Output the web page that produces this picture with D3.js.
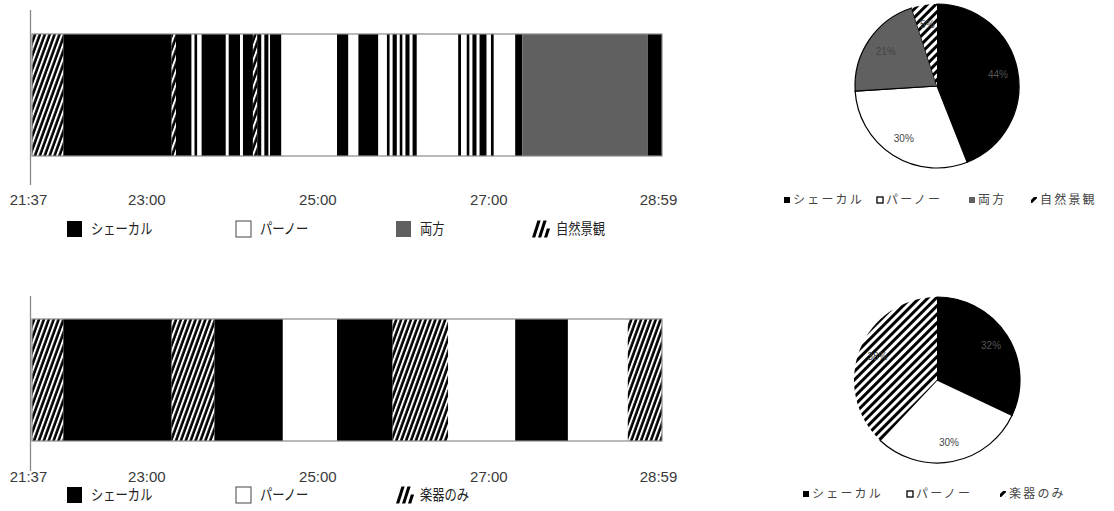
<!DOCTYPE html>
<html><head><meta charset="utf-8">
<script src="https://cdn.jsdelivr.net/npm/d3@7"></script>
<style>body{margin:0;background:#fff} svg{display:block}</style>
</head><body><svg id="c" width="1114" height="511"></svg>
<script>
// ---------- DATA ----------
const topStarts = ["21:37","21:59","23:15","23:18","23:29","23:31","23:33","23:36","23:53","23:55","24:03","24:05","24:12","24:15","24:18","24:20","24:23","24:24","24:32","25:11","25:19","25:26","25:40","25:46","25:48","25:50","25:53","25:55","25:57","25:59","26:02","26:04","26:07","26:36","26:38","26:42","26:44","26:46","26:49","26:51","26:56","26:59","27:01","27:16","27:21","28:49"];
const topTypes  = ["N","S","N","S","P","S","P","S","P","S","P","S","N","S","P","S","P","S","P","S","P","S","P","S","P","S","P","S","P","S","P","S","P","S","P","S","P","S","P","S","P","S","P","S","B","S"];
const bottomStarts = ["21:37","21:59","23:15","23:45","24:33","25:11","25:50","26:29","27:16","27:53","28:35"];
const bottomTypes  = ["N","S","N","S","P","S","N","P","S","P","N"];
const startTime = "21:37";
const endTime = "28:59";
const tickLabels = ["21:37","23:00","25:00","27:00","28:59"];

const topLegendKeys = ["S","P","B","N"];
const topLegendLabels = ["シェーカル","パーノー","両方","自然景観"];
const bottomLegendKeys = ["S","P","N"];
const bottomLegendLabels = ["シェーカル","パーノー","楽器のみ"];

const pieTopKeys = ["S","P","B","N"];
const pieTopValues = [44,30,21,5];
const pieBottomKeys = ["S","P","N"];
const pieBottomValues = [32,30,38];

// ---------- SETUP ----------
const svg = d3.select("#c");
const toMin = s => { const [h,m] = s.split(":").map(Number); return h*60+m; };
const fmt = v => { const h = Math.floor(v/60), m = v%60; return h + ":" + String(m).padStart(2,"0"); };

const defs = svg.append("defs");
const bp = defs.append("pattern").attr("id","barHatch").attr("patternUnits","userSpaceOnUse")
  .attr("width",4.6).attr("height",10).attr("patternTransform","rotate(20)");
bp.append("rect").attr("width",4.6).attr("height",10).attr("fill","#000");
bp.append("rect").attr("width",2).attr("height",10).attr("fill","#fff");

const pp = defs.append("pattern").attr("id","pieHatch").attr("patternUnits","userSpaceOnUse")
  .attr("width",6).attr("height",10).attr("patternTransform","rotate(45)");
pp.append("rect").attr("width",6).attr("height",10).attr("fill","#fff");
pp.append("rect").attr("width",3).attr("height",10).attr("fill","#000");

const fills = {S:"#000", P:"#fff", B:"#606060", N:"url(#barHatch)"};
const pieFills = {S:"#000", P:"#fff", B:"#606060", N:"url(#pieHatch)"};

const x = d3.scaleLinear().domain([toMin(startTime), toMin(endTime)]).range([32, 662]);

function drawBar(starts, types, y0, y1, axisTop, axisBottom, labelY, legendY, legendKeys, legendLabels, legendX) {
  const g = svg.append("g");
  const segs = starts.map((s,i) => ({a: toMin(s), b: toMin(starts[i+1] || endTime), t: types[i]}));
  g.selectAll("rect.seg").data(segs).join("rect").attr("class","seg")
    .attr("x", d => x(d.a)).attr("width", d => x(d.b) - x(d.a))
    .attr("y", y0).attr("height", y1 - y0)
    .attr("fill", d => fills[d.t]);
  g.append("rect").attr("x", x.range()[0]).attr("y", y0)
    .attr("width", x.range()[1]-x.range()[0]).attr("height", y1-y0)
    .attr("fill","none").attr("stroke","#8a8a8a").attr("stroke-width",1.2);
  g.append("line").attr("x1", x.range()[0]-1.5).attr("x2", x.range()[0]-1.5)
    .attr("y1", axisTop).attr("y2", axisBottom).attr("stroke","#8a8a8a").attr("stroke-width",1.3);

  const ax = g.append("g").attr("transform", `translate(-4,${labelY})`)
    .call(d3.axisBottom(x).tickValues(tickLabels.map(toMin)).tickFormat(fmt).tickSize(0).tickPadding(0));
  ax.select(".domain").remove();
  ax.selectAll("text").attr("font-family","'Liberation Sans', Arial, sans-serif")
    .attr("font-size",15).attr("fill","#3a3a3a").attr("dy","0.35em").attr("y",0)
    .attr("transform","scale(1,1)");

  const lg = g.append("g");
  legendKeys.forEach((k,i) => {
    const lx = legendX[i];
    const item = lg.append("g").attr("transform", `translate(${lx},${legendY})`);
    if (k === "N") {
      [0,6,12].forEach((o,j) => {
        const h = j === 2 ? 9 : 17;
        item.append("path").attr("d", `M${o},8.5 L${o+3.2},8.5 L${o+3.2+h*0.32},${8.5-h} L${o+h*0.32},${8.5-h} Z`).attr("fill","#000");
      });
    } else {
      item.append("rect").attr("x",0).attr("y",-8).attr("width",15).attr("height",16)
        .attr("fill", fills[k]).attr("stroke", k === "P" ? "#444" : "none").attr("stroke-width",1);
    }
    item.append("text").attr("y", 0).attr("dy","0.36em")
      .attr("font-family","'Noto Sans CJK JP', sans-serif").attr("font-size",15)
      .attr("fill","#222").attr("transform","scale(0.82,1)")
      .attr("x", 24/0.82)
      .text(legendLabels[i]);
  });
}

drawBar(topStarts, topTypes, 34, 156, 10, 185, 200, 229, topLegendKeys, topLegendLabels, [67, 236, 396, 532]);
drawBar(bottomStarts, bottomTypes, 319, 441, 296, 471, 477, 495, bottomLegendKeys, bottomLegendLabels, [67, 236, 396]);

function drawPie(keys, values, labels, cx, cy, r, labelR, legendY, legendX) {
  const g = svg.append("g").attr("transform", `translate(${cx},${cy})`);
  const data = d3.pie().sort(null).value(d => d.v)(keys.map((k,i) => ({k, v: values[i]})));
  const arc = d3.arc().innerRadius(0).outerRadius(r);
  const la = d3.arc().innerRadius(labelR).outerRadius(labelR);
  g.selectAll("path").data(data).join("path").attr("d", arc)
    .attr("fill", d => pieFills[d.data.k])
    .attr("stroke", d => d.data.k === "N" ? "none" : "#000").attr("stroke-width",1.2);
  g.selectAll("text").data(data).join("text")
    .attr("transform", d => `translate(${la.centroid(d)})`)
    .attr("text-anchor","middle").attr("dy","0.35em")
    .attr("font-family","'Liberation Sans Narrow','Liberation Sans',sans-serif").attr("font-size",10)
    .attr("fill", d => d.data.k === "S" ? "#555" : "#444")
    .text(d => d.data.v + "%");

  const lg = svg.append("g");
  keys.forEach((k,i) => {
    const item = lg.append("g").attr("transform", `translate(${legendX[i]},${legendY})`);
    item.append("rect").attr("x",0).attr("y",-3).attr("width",6).attr("height",6)
      .attr("fill", pieFills[k]).attr("stroke", k === "P" ? "#000" : "none").attr("stroke-width",1.3);
    item.append("text").attr("x",9).attr("y",0).attr("dy","0.36em")
      .attr("font-family","'Noto Sans CJK JP', sans-serif").attr("font-size",12)
      .attr("letter-spacing",2.2).attr("fill","#444")
      .text(labels[i]);
  });
}

drawPie(pieTopKeys, pieTopValues, topLegendLabels, 937, 86, 82, 62, 200, [784, 877, 969, 1031]);
drawPie(pieBottomKeys, pieBottomValues, bottomLegendLabels, 937, 380, 83, 64, 494, [803, 907, 1000]);
</script></body></html>
